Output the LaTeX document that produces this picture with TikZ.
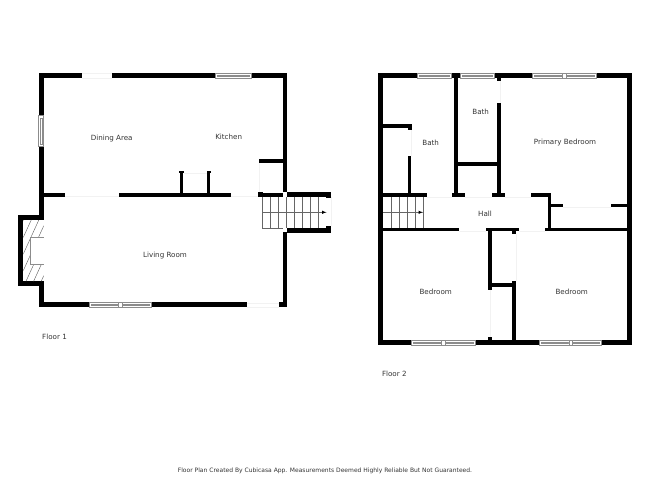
\documentclass[tikz,border=0pt]{standalone}
\usepackage{fontspec}
\setmainfont{DejaVu Sans}
\usepackage{xcolor}
\usetikzlibrary{arrows}
\tikzset{
  roomlabel/.style={font=\fontsize{7.15}{8}\selectfont,text=black!80,inner sep=0pt},
  paneline/.style={draw=black!45,line width=0.5pt,fill=white},
  treadline/.style={black!60,line width=0.5pt},
  treadtip/.style={black,line width=0.5pt,-latex},
  openingline/.style={black!5,line width=0.5pt},
}
\begin{document}
\begin{tikzpicture}[x=1pt,y=-1pt]
\useasboundingbox (0,0) rectangle (650,488);
%% floor 1 walls
\foreach \xa/\ya/\xb/\yb in {38.5/73.3/82/78.3, 111.7/73.3/215/78.3, 251/73.3/287.3/78.3,
    38.5/73.3/43.7/115.7, 38.5/146.7/43.7/215.3, 38.5/281.5/43.7/307.3, 282.5/73.3/287.3/192,
    282.5/232/287.3/307.3, 259/159.3/282.5/163.2, 43.7/193/65.3/196.6, 118.7/193/230.7/196.6,
    258/192.8/282.5/196.6, 258/191.7/262.5/197, 287/191.7/331/196.6, 326/191.7/331/197.5,
    287/228/331/232.6, 326/226/331/232.6, 179.8/171/183.2/193, 207/171/210.3/193,
    179.3/170.7/184/173, 206.6/170.7/211/173,
    38.5/302.4/89/307.3, 151.7/302.4/247.3/307.3, 279.3/302.4/287.3/307.3,
    18.3/215.3/43.7/220, 18.3/281.3/43.7/286, 18.3/215.3/23.3/286}
  \fill (\xa,\ya) rectangle (\xb,\yb);
%% fireplace
\begin{scope}
\clip (23.3,220) rectangle (43.7,281.3);
\foreach \h in {0,7.6,...,84}
  \draw[black!65,line width=0.4pt] (\h-12,281.3) -- (\h+16,220);
\end{scope}
\draw[paneline,fill=white] (43.7,237.3) -- (30,237.3) -- (30,264) -- (43.7,264);
%% floor 1 windows
\draw[paneline] (215,73.5) rectangle (251,78);
\draw[paneline] (217,75) rectangle (249,76.7);
\draw[paneline] (38.7,115.7) rectangle (43.5,146.7);
\draw[paneline] (40.2,118) rectangle (42,144.5);
\draw[paneline] (89,302.6) rectangle (151.7,307);
\draw[paneline] (91,304) rectangle (118.5,305.6);
\draw[paneline] (122,304) rectangle (149.7,305.6);
\draw[paneline] (118.5,302.6) -- (118.5,307) (122,302.6) -- (122,307);
%% floor 1 stairs
\foreach \x in {262.3,270.3,...,326}
  \draw[treadline] (\x,196.6) -- (\x,228.3);
\draw[treadline] (262.3,228.3) -- (282.5,228.3);
\draw[treadline] (262.3,212.3) -- (324,212.3);
\draw[treadtip] (323,212.3) -- (326.5,212.3);
%% floor 1 openings
\foreach \xa/\ya/\xb/\yb in {82/73.5/111.7/73.5, 82/78.3/111.7/78.3, 65.3/196.6/118.7/196.6,
    230.7/196.6/258/196.6, 247.3/303/279.3/303, 247.3/307/279.3/307,
    259/163.2/259/192, 331/197/331/226, 184/173/207/173}
  \draw[openingline] (\xa,\ya) -- (\xb,\yb);
%% floor 2 walls
\foreach \xa/\ya/\xb/\yb in {378.3/73.3/417.3/78.3, 451/73.3/460.7/78.3, 494/73.3/532.3/78.3,
    596/73.3/631.7/78.3, 378.3/73.3/383.3/345, 627/73.3/631.7/345,
    454/78/457.7/193.5, 451.7/193.3/465/197.3, 497/78/500.7/80.8, 497/103.3/500.7/193.5,
    491.7/193.3/505/197.3, 457/162.3/497/165.7, 383/124.3/411.7/127.7, 408/124.3/411.7/130,
    408/155.7/411.2/193.5, 383/193.3/426.7/197.3, 531/193.3/551/197.3, 547.7/193.3/551/231,
    551/203.7/563.3/207.3, 611/203.7/627/207.3, 545/227.9/627/231.3,
    383/227.9/459.3/231.3, 485.7/227.9/519/231.3, 488.3/231/492/290, 512.3/231/516/233.5,
    492/283.3/512.7/286.7, 512.3/280.7/516/341, 488.3/337.3/492/341,
    378.3/340.3/411.7/345, 475/340.3/539.3/345, 601.7/340.3/631.7/345}
  \fill (\xa,\ya) rectangle (\xb,\yb);
%% floor 2 windows
\foreach \xa/\xb in {417.3/451, 460.7/494} {
  \draw[paneline] (\xa,73.5) rectangle (\xb,78);
  \draw[paneline] (\xa+2,75) rectangle (\xb-2,76.7);
}
\foreach \xa/\xm/\xb/\ya in {532.3/564.3/596/73.5, 411.7/443.3/475/340.5, 539.3/570.7/601.7/340.5} {
  \draw[paneline] (\xa,\ya) rectangle (\xb,\ya+4.4);
  \draw[paneline] (\xa+2,\ya+1.5) rectangle (\xm-1.8,\ya+3.1);
  \draw[paneline] (\xm+1.8,\ya+1.5) rectangle (\xb-2,\ya+3.1);
  \draw[paneline] (\xm-1.8,\ya) -- (\xm-1.8,\ya+4.4) (\xm+1.8,\ya) -- (\xm+1.8,\ya+4.4);
}
%% floor 2 stairs
\foreach \x in {391.3,399.3,...,424}
  \draw[treadline] (\x,197.3) -- (\x,227.9);
\draw[treadline] (383.3,212.3) -- (421,212.3);
\draw[treadtip] (420,212.3) -- (423,212.3);
%% floor 2 openings
\foreach \xa/\ya/\xb/\yb in {426.7/197.3/451.7/197.3, 465/197.3/491.7/197.3, 505/197.3/531/197.3,
    563.3/207.3/611/207.3, 459.3/231.3/485.7/231.3, 519/231.3/545/231.3, 500.7/80.8/500.7/103.3,
    411.2/130/411.2/155.7, 490/290/490/337.3, 516/233.5/516/280.7}
  \draw[openingline] (\xa,\ya) -- (\xb,\yb);
%% labels
\node[roomlabel] (diningarea) at (111.7,138.3) {Dining Area};
\node[roomlabel] (kitchen) at (228.7,137.3) {Kitchen};
\node[roomlabel] (livingroom) at (165,256) {Living Room};
\node[roomlabel] (floorone) at (54.5,336.8) {Floor 1};
\node[roomlabel] (bathleft) at (430.7,143.3) {Bath};
\node[roomlabel] (bathright) at (480.7,111.7) {Bath};
\node[roomlabel] (primarybedroom) at (565,142.3) {Primary Bedroom};
\node[roomlabel] (hall) at (485,214.3) {Hall};
\node[roomlabel] (bedroomleft) at (435.7,291.7) {Bedroom};
\node[roomlabel] (bedroomright) at (571.7,291.7) {Bedroom};
\node[roomlabel] (floortwo) at (394.3,374) {Floor 2};
\node[roomlabel,font=\fontsize{6}{7}\selectfont] (disclaimer) at (325,470.7) {Floor Plan Created By Cubicasa App. Measurements Deemed Highly Reliable But Not Guaranteed.};
\end{tikzpicture}
\end{document}
